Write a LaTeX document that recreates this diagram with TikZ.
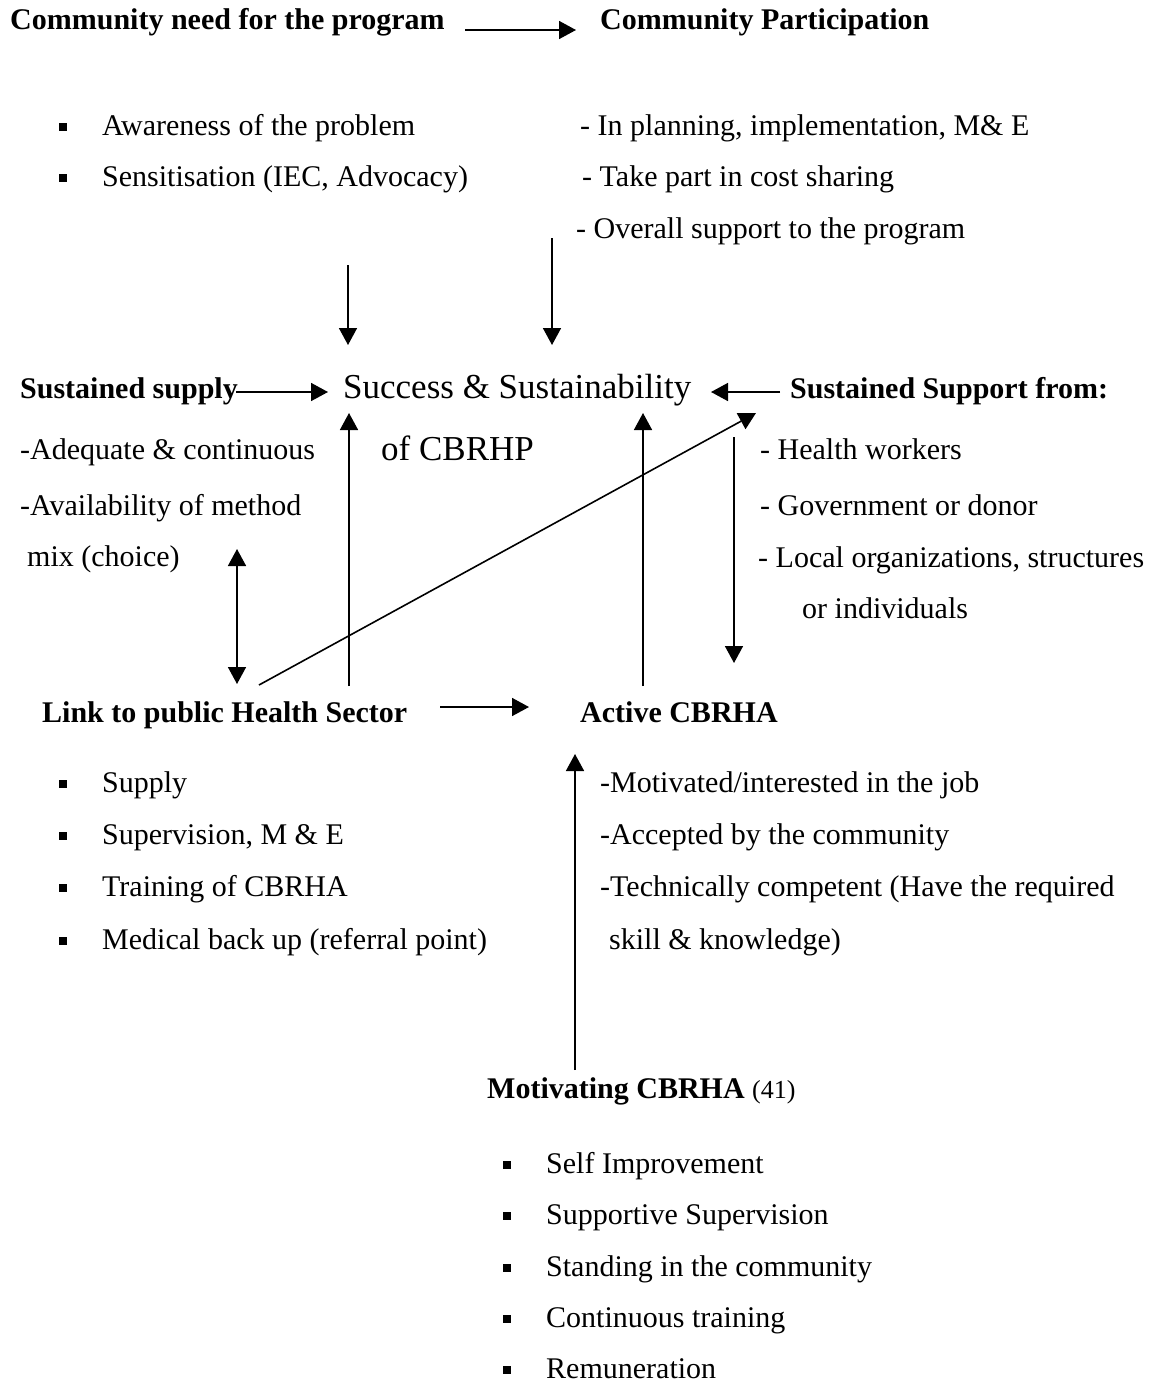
\documentclass[tikz,border=0pt]{standalone}
\usepackage{fontspec}
\setmainfont{Liberation Serif}
\usetikzlibrary{arrows.meta}
\newcommand\sqbul{\rule[4pt]{8pt}{8pt}}
\newcommand\bul[1]{\makebox[43pt][l]{\sqbul}#1}
\begin{document}
\begin{tikzpicture}[x=1pt,y=-1pt,
  txt/.style={anchor=base west,inner sep=0pt,font=\fontsize{30}{36}\selectfont},
  btxt/.style={txt,font=\fontsize{30}{36}\selectfont\bfseries},
  big/.style={anchor=base west,inner sep=0pt,font=\fontsize{35}{42}\selectfont},
  arr/.style={line width=1.6pt,-{Triangle[width=18pt,length=17pt]}},
  darr/.style={line width=1.6pt,{Triangle[width=18pt,length=17pt]}-{Triangle[width=18pt,length=17pt]}}]
\useasboundingbox (0,0) rectangle (1149,1384);
% top row
\node[btxt] (need) at (10,29) {Community need for the program};
\node[btxt] (part) at (600,29) {Community Participation};
\node[txt] (aw) at (59,135) {\bul{Awareness of the problem}};
\node[txt] (se) at (59,186) {\bul{Sensitisation (IEC, Advocacy)}};
\node[txt] (pl) at (580,135) {- In planning, implementation, M\& E};
\node[txt] (co) at (582,186) {- Take part in cost sharing};
\node[txt] (ov) at (576,238) {- Overall support to the program};
% middle row
\node[btxt] (ss) at (20,398) {Sustained supply};
\node[big] (succ) at (343,398) {Success \& Sustainability};
\node[big] (cbrhp) at (381,460) {of CBRHP};
\node[btxt] (sup) at (790,398) {Sustained Support from:};
\node[txt] (ad) at (20,459) {-Adequate \& continuous};
\node[txt] (av) at (20,515) {-Availability of method};
\node[txt] (mix) at (27,566) {mix (choice)};
\node[txt] (hw) at (760,459) {- Health workers};
\node[txt] (gov) at (760,515) {- Government or donor};
\node[txt] (loc) at (758,567) {- Local organizations, structures};
\node[txt] (ind) at (802,618) {or individuals};
% lower row
\node[btxt] (link) at (42,722) {Link to public Health Sector};
\node[btxt] (act) at (580,722) {Active CBRHA};
\node[txt] (l1) at (59,792) {\bul{Supply}};
\node[txt] (l2) at (59,844) {\bul{Supervision, M \& E}};
\node[txt] (l3) at (59,896) {\bul{Training of CBRHA}};
\node[txt] (l4) at (59,949) {\bul{Medical back up (referral point)}};
\node[txt] (r1) at (600,792) {-Motivated/interested in the job};
\node[txt] (r2) at (600,844) {-Accepted by the community};
\node[txt] (r3) at (600,896) {-Technically competent (Have the required};
\node[txt] (r4) at (609,949) {skill \& knowledge)};
% bottom
\node[txt] (mot) at (487,1098) {\textbf{Motivating CBRHA} {\fontsize{26}{30}\selectfont(41)}};
\node[txt] (m1) at (503,1173) {\bul{Self Improvement}};
\node[txt] (m2) at (503,1224) {\bul{Supportive Supervision}};
\node[txt] (m3) at (503,1276) {\bul{Standing in the community}};
\node[txt] (m4) at (503,1327) {\bul{Continuous training}};
\node[txt] (m5) at (503,1378) {\bul{Remuneration}};
% connector end points
\coordinate (a1s) at (465,30); \coordinate (a1e) at (576,30);
\coordinate (a2s) at (348,265); \coordinate (a2e) at (348,345);
\coordinate (a3s) at (552,238); \coordinate (a3e) at (552,345);
\coordinate (a4s) at (236,392); \coordinate (a4e) at (328,392);
\coordinate (a5s) at (780,392); \coordinate (a5e) at (711,392);
\coordinate (a6s) at (349,686); \coordinate (a6e) at (349,413);
\coordinate (a7s) at (643,686); \coordinate (a7e) at (643,413);
\coordinate (a8s) at (237,549); \coordinate (a8e) at (237,684);
\coordinate (a9s) at (259,685); \coordinate (a9e) at (756,413);
\coordinate (a10s) at (734,437); \coordinate (a10e) at (734,663);
\coordinate (a11s) at (440,707); \coordinate (a11e) at (529,707);
\coordinate (a12s) at (575,1070); \coordinate (a12e) at (575,754);
\draw[arr] (a1s) -- (a1e);
\draw[arr] (a2s) -- (a2e);
\draw[arr] (a3s) -- (a3e);
\draw[arr] (a4s) -- (a4e);
\draw[arr] (a5s) -- (a5e);
\draw[arr] (a6s) -- (a6e);
\draw[arr] (a7s) -- (a7e);
\draw[darr] (a8s) -- (a8e);
\draw[arr] (a9s) -- (a9e);
\draw[arr] (a10s) -- (a10e);
\draw[arr] (a11s) -- (a11e);
\draw[arr] (a12s) -- (a12e);
\end{tikzpicture}
\end{document}
